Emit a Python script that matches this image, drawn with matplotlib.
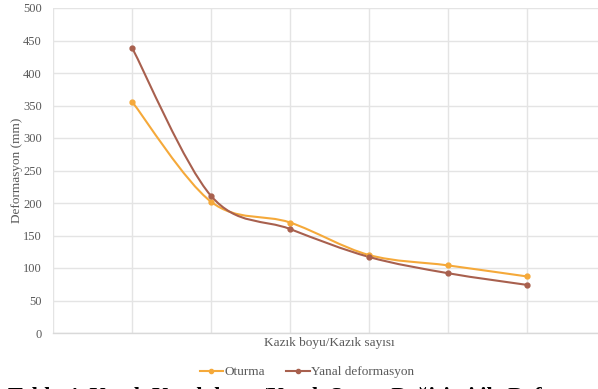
import matplotlib.pyplot as plt
from matplotlib.path import Path
from matplotlib.patches import PathPatch
import numpy as np

# chart data
series_names = ['Oturma', 'Yanal deformasyon']
oturma = [356, 202, 170, 120, 104, 87]
yanal = [439, 211, 160, 117, 92, 74]
colors = ['#F5A93A', '#A8604E']
y_ticks = [0, 50, 100, 150, 200, 250, 300, 350, 400, 450, 500]

plt.rcParams['font.family'] = ['Liberation Serif', 'DejaVu Serif']

W, H = 598, 389
fig = plt.figure(figsize=(W / 100, H / 100), dpi=100)
# plot area runs a bit past the right edge, as in the original
ax = fig.add_axes([53 / W, 1 - 333 / H, (606 - 53) / W, (333 - 8) / H])

x = np.arange(1, len(oturma) + 1)


def smooth_path(xs, ys):
    # Excel-style smoothed line: cubic bezier through each point
    pts = np.column_stack([xs, ys]).astype(float)
    verts = [pts[0]]
    codes = [Path.MOVETO]
    n = len(pts)
    for i in range(n - 1):
        p0 = pts[i - 1] if i > 0 else pts[i]
        p1 = pts[i]
        p2 = pts[i + 1]
        p3 = pts[i + 2] if i + 2 < n else pts[i + 1]
        c1 = p1 + (p2 - p0) / 6
        c2 = p2 - (p3 - p1) / 6
        verts += [c1, c2, p2]
        codes += [Path.CURVE4] * 3
    return Path(verts, codes)


for vals, col, name in zip([oturma, yanal], colors, series_names):
    ax.add_patch(PathPatch(smooth_path(x, vals), facecolor='none',
                           edgecolor=col, lw=1.5, zorder=3))
    ax.plot(x, vals, 'o', color=col, ms=3.5, zorder=4)
    ax.plot([], [], '-o', color=col, ms=3, lw=1.5, label=name)

ax.set_xlim(0, 7)
ax.set_ylim(0, 500)
ax.set_yticks(y_ticks)
ax.set_xticks(range(0, 8))
ax.set_xticklabels([])
ax.tick_params(length=0, labelsize=9, colors='#595959', pad=8)
ax.grid(True, color='#e4e4e4', lw=1)
ax.set_axisbelow(True)
for s in ['top', 'right', 'left']:
    ax.spines[s].set_visible(False)
ax.spines['bottom'].set_color('#d9d9d9')
ax.spines['bottom'].set_linewidth(1)

fig.text(17 / W, 1 - 170 / H, 'Deformasyon (mm)', fontsize=9.5, color='#595959',
         rotation=90, ha='center', va='center')
fig.text(329.5 / W, 1 - 343 / H, 'Kazık boyu/Kazık sayısı', fontsize=9.5,
         color='#595959', ha='center', va='center')

leg = fig.legend(loc='center', bbox_to_anchor=(307 / W, 1 - 372 / H), ncol=2,
                 frameon=False, fontsize=9.5, handlelength=1.8, columnspacing=1.6,
                 handletextpad=0.1)
for t in leg.get_texts():
    t.set_color('#595959')

# caption of the page, cut off by the bottom edge
fig.text(8 / W, 1 - 402 / H, 'Tablo 4. Kazık Kazık boyu/Kazık Sayısı Değişimi ile Deformasyon',
         fontsize=16, color='black', fontweight='bold', ha='left', va='baseline')

fig.savefig('out.png', dpi=100)
